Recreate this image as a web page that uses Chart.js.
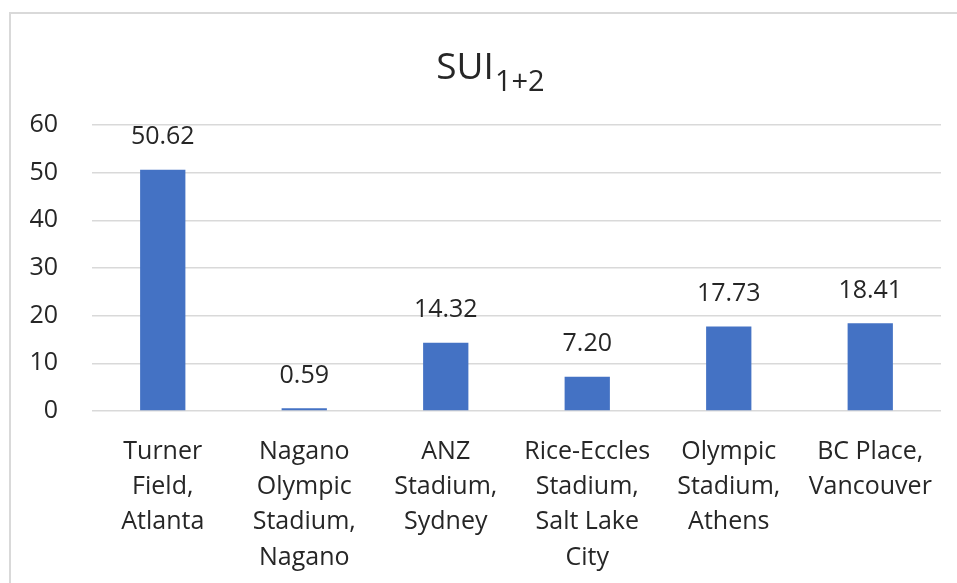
<!DOCTYPE html>
<html>
<head>
<meta charset="utf-8">
<script src="https://cdn.jsdelivr.net/npm/chart.js@4"></script>
<style>
  html, body { margin: 0; padding: 0; background: #fff; }
  #wrap { width: 957px; height: 583px; }
</style>
</head>
<body>
<div id="wrap"><canvas id="chart-sui" width="957" height="583"></canvas></div>
<script>
const stadiums = [
    ['Turner', 'Field,', 'Atlanta'],
    ['Nagano', 'Olympic', 'Stadium,', 'Nagano'],
    ['ANZ', 'Stadium,', 'Sydney'],
    ['Rice-Eccles', 'Stadium,', 'Salt Lake', 'City'],
    ['Olympic', 'Stadium,', 'Athens'],
    ['BC Place,', 'Vancouver']
];
const sui_values = [50.62, 0.59, 14.32, 7.20, 17.73, 18.41];
const y_ticks = [0, 10, 20, 30, 40, 50, 60];

const title_main = 'SUI';
const title_sub = '1+2';

const fontFamily = '"Open Sans", "Noto Sans", sans-serif';
const textColor = '#262626';
const barColor = '#4472C4';
const gridColor = '#d9d9d9';

// outer frame like the spreadsheet chart box
const framePlugin = {
    id: 'frame',
    beforeDraw(chart) {
        const ctx = chart.ctx;
        ctx.save();
        ctx.strokeStyle = gridColor;
        ctx.lineWidth = 2;
        ctx.beginPath();
        ctx.moveTo(10, 583);
        ctx.lineTo(10, 13);
        ctx.lineTo(957, 13);
        ctx.stroke();
        ctx.restore();
    }
};

// title with a subscript part
const subTitlePlugin = {
    id: 'subTitle',
    afterDraw(chart) {
        const ctx = chart.ctx;
        ctx.save();
        ctx.fillStyle = textColor;
        ctx.textBaseline = 'alphabetic';
        ctx.textAlign = 'left';
        const mainFont = '37px ' + fontFamily;
        const subFont = '29px ' + fontFamily;
        ctx.font = mainFont;
        const w1 = ctx.measureText(title_main).width;
        ctx.font = subFont;
        const w2 = ctx.measureText(title_sub).width;
        const x0 = 490 - (w1 + w2) / 2;
        ctx.font = mainFont;
        ctx.fillText(title_main, x0, 79);
        ctx.font = subFont;
        ctx.fillText(title_sub, x0 + w1 + 1, 91);
        ctx.restore();
    }
};

// value labels above bars
const valueLabelPlugin = {
    id: 'valueLabels',
    afterDatasetsDraw(chart) {
        const ctx = chart.ctx;
        const meta = chart.getDatasetMeta(0);
        ctx.save();
        ctx.font = '25px ' + fontFamily;
        ctx.fillStyle = textColor;
        ctx.textAlign = 'center';
        ctx.textBaseline = 'bottom';
        meta.data.forEach((bar, i) => {
            ctx.fillText(sui_values[i].toFixed(2), bar.x, bar.y - 20);
        });
        ctx.restore();
    }
};

const ctx = document.getElementById('chart-sui');

new Chart(ctx, {
    type: 'bar',
    data: {
        labels: stadiums,
        datasets: [{
            label: 'SUI 1+2',
            data: sui_values,
            backgroundColor: barColor,
            borderWidth: 0,
            barPercentage: 0.32,
            categoryPercentage: 1.0
        }]
    },
    options: {
        responsive: false,
        animation: false,
        layout: {
            padding: { top: 125, left: 12, right: 16, bottom: 0 }
        },
        scales: {
            x: {
                grid: { display: false, drawTicks: false },
                border: { display: false },
                ticks: {
                    color: textColor,
                    font: { family: fontFamily, size: 25, lineHeight: 1.41 },
                    padding: 23,
                    maxRotation: 0,
                    autoSkip: false
                },
                afterFit(scale) { scale.height = 172; }
            },
            y: {
                min: 0,
                max: 60,
                afterBuildTicks(scale) {
                    scale.ticks = y_ticks.map(v => ({ value: v }));
                },
                grid: { color: gridColor, lineWidth: 1.5, drawTicks: false },
                border: { display: false },
                ticks: {
                    color: textColor,
                    font: { family: fontFamily, size: 25 },
                    padding: 34
                },
                afterFit(scale) { scale.width = 80; }
            }
        },
        plugins: {
            legend: { display: false },
            tooltip: { enabled: false },
            title: { display: false }
        }
    },
    plugins: [framePlugin, valueLabelPlugin, subTitlePlugin]
});
</script>
</body>
</html>
